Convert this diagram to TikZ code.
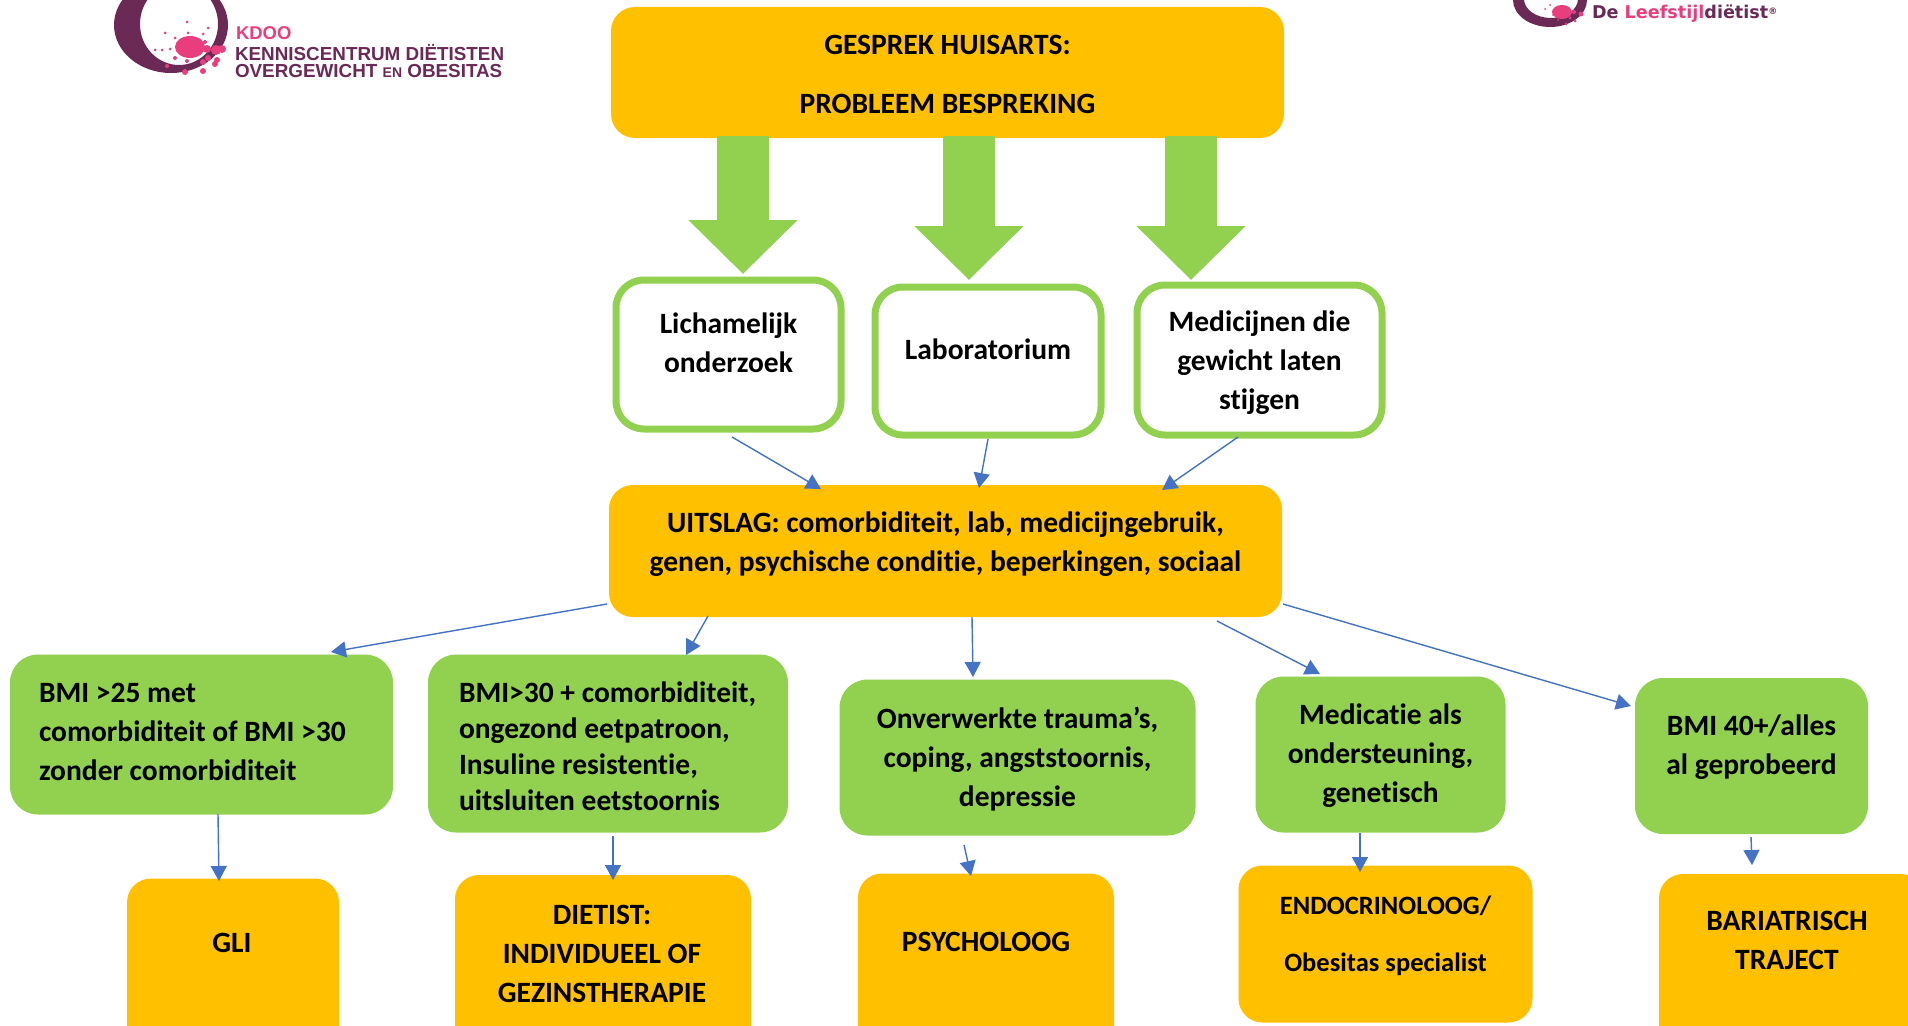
\documentclass[tikz,border=0pt]{standalone}
\usepackage{fontspec}
\setmainfont[Ligatures=NoCommon]{Carlito}
\newfontfamily\logofont{Liberation Sans}
\newfontfamily\logofontb{DejaVu Sans}
\usetikzlibrary{arrows.meta}
\definecolor{orangeb}{HTML}{FFC000}
\definecolor{greenb}{HTML}{92D050}
\definecolor{arrowb}{HTML}{4472C4}
\definecolor{plum}{HTML}{6B2A55}
\definecolor{pinkb}{HTML}{E83E7E}
\newcommand{\tx}[5][29.5]{\raisebox{\dimexpr-#3pt-8.5pt\relax}[0pt][0pt]{\makebox[0pt][l]{\kern #2pt\makebox[0pt][#4]{\fontsize{#1}{39}\selectfont\bfseries\begin{tabular}{@{}#4@{}}#5\end{tabular}}}}}
\tikzset{
  obox/.style={fill=orangeb,rounded corners=24pt,inner sep=0pt,outer sep=0pt},
  gbox/.style={fill=greenb,rounded corners=28pt,inner sep=0pt,outer sep=0pt},
  wbox/.style={draw=greenb,line width=7pt,fill=white,rounded corners=28pt,inner sep=0pt,outer sep=0pt},
  conn/.style={draw=arrowb,line width=1.4pt,-{Triangle[length=15pt,width=16pt,fill=arrowb]}},
  bigarrow/.style={draw=greenb,line width=52pt,-{Triangle[length=54pt,width=106pt,fill=greenb]}},
  logotxt/.style={inner sep=0pt,outer sep=0pt,anchor=west,font=\logofont\bfseries}
}
\begin{document}
\begin{tikzpicture}[x=1pt,y=-1pt]
\path[use as bounding box] (0,0) rectangle (1908,1025);
\clip (0,0) rectangle (1908,1025);
\fill[white] (0,0) rectangle (1908,1025);
% left logo
\fill[plum,even odd rule] (171,25) ellipse [x radius=57,y radius=48] (179,24) ellipse [x radius=39,y radius=41];
\fill[pinkb] (190,47) ellipse [x radius=15,y radius=11];
\foreach \px/\py/\ps in {155/50/1.5,162/50/1.5,170/49/1.5,165/33/1.5,175/38/1.5,187/22/1.5,188/33/1.5,208/28/1.5,203/34/1.5,205/42/2,207/49/4,216/50/5,222/49/4,208/58/3,217/60/3,203/62/3,187/61/2,175/58/2,167/66/2,185/72/3,203/71/3,215/64/3}{
  \fill[pinkb] (\px,\py) circle [radius=\ps];
}
\node[logotxt,text=pinkb,font=\logofont\bfseries\fontsize{18.5}{20}\selectfont] (kdoo) at (236,33) {KDOO};
\node[logotxt,text=plum,font=\logofont\bfseries\fontsize{18.85}{20}\selectfont] (kenn) at (235,52.5) {KENNISCENTRUM DIËTISTEN};
\node[logotxt,text=plum,font=\logofont\bfseries\fontsize{18.85}{20}\selectfont] (over) at (235,71) {OVERGEWICHT {\fontsize{14}{16}\selectfont EN} OBESITAS};
% right logo
\fill[plum,even odd rule] (1550,0) ellipse [x radius=37,y radius=27] (1551,-1) ellipse [x radius=27,y radius=19];
\fill[pinkb] (1562,12) ellipse [x radius=10,y radius=7];
\foreach \px/\py/\ps in {1545/9/1,1550/5/1,1553/15/1,1574/12/2,1581/14/2.5,1570/18/1.5,1575/21/1.5,1566/24/1.5,1558/20/1}{
  \fill[pinkb] (\px,\py) circle [radius=\ps];
}
\node[logotxt,font=\logofontb\bfseries\fontsize{17.6}{20}\selectfont] (leef) at (1592,14) {\textcolor{plum}{De }\textcolor{pinkb}{Leefstijl}\textcolor{plum}{diëtist}\textcolor{plum}{\raisebox{4pt}{\fontsize{9}{10}\selectfont ®}}};
% boxes
\node[obox,minimum width=673pt,minimum height=131pt] (top) at (947.5,72.5) {\tx{0}{1.5}{c}{GESPREK HUISARTS:\\[19.4pt]PROBLEEM BESPREKING}};
\node[wbox,minimum width=225pt,minimum height=149pt] (w1) at (728.5,354.5) {\tx{0}{-11.5}{c}{Lichamelijk\\onderzoek}};
\node[wbox,minimum width=226pt,minimum height=148pt] (w2) at (988,361) {\tx{0}{-12}{c}{Laboratorium}};
\node[wbox,minimum width=245pt,minimum height=150pt] (w3) at (1259.5,360) {\tx{0}{0}{c}{Medicijnen die\\gewicht laten\\stijgen}};
\node[obox,minimum width=673pt,minimum height=132pt] (uit) at (945.5,551) {\tx{0}{-9.5}{c}{UITSLAG: comorbiditeit, lab, medicijngebruik,\\genen, psychische conditie, beperkingen, sociaal}};
\node[gbox,minimum width=383pt,minimum height=160pt] (g1) at (201.5,734.5) {\tx{-162.5}{-3.5}{l}{BMI >25 met\\comorbiditeit of BMI >30\\zonder comorbiditeit}};
\node[gbox,minimum width=360pt,minimum height=178pt] (g2) at (608,743.5) {\tx{-149}{3}{l}{BMI>30 + comorbiditeit,\\[-3pt]ongezond eetpatroon,\\[-3pt]Insuline resistentie,\\[-3pt]uitsluiten eetstoornis}};
\node[gbox,minimum width=356pt,minimum height=156pt] (g3) at (1017.5,757.5) {\tx{0}{0}{c}{Onverwerkte trauma’s,\\coping, angststoornis,\\depressie}};
\node[gbox,minimum width=250pt,minimum height=156pt] (g4) at (1380.5,754.5) {\tx{0}{-1.5}{c}{Medicatie als\\ondersteuning,\\genetisch}};
\node[gbox,minimum width=233pt,minimum height=156pt] (g5) at (1751.5,756) {\tx{0}{-11}{c}{BMI 40+/alles\\al geprobeerd}};
\node[obox,minimum width=212pt,minimum height=183pt] (o1) at (233,970) {\tx{-1}{-28}{c}{GLI}};
\node[obox,minimum width=296pt,minimum height=185pt] (o2) at (603,967.5) {\tx{-1}{-14.5}{c}{DIETIST:\\INDIVIDUEEL OF\\GEZINSTHERAPIE}};
\node[obox,minimum width=256pt,minimum height=187pt] (o3) at (986,967) {\tx{0}{-26}{c}{PSYCHOLOOG}};
\node[obox,minimum width=294pt,minimum height=157pt] (o4) at (1385.5,944) {\tx[26.5]{0}{-11.5}{c}{ENDOCRINOLOOG/\\[18pt]Obesitas specialist}};
\node[obox,minimum width=266pt,minimum height=186pt] (o5) at (1792,967) {\tx{-5}{-27}{c}{BARIATRISCH\\TRAJECT}};
% block arrows
\draw[bigarrow] ([shift={(-204.5,63.5)}]top.center) -- ([shift={(14.5,-80.5)}]w1.center);
\draw[bigarrow] ([shift={(21.5,63.5)}]top.center) -- ([shift={(-19,-81)}]w2.center);
\draw[bigarrow] ([shift={(243.5,63.5)}]top.center) -- ([shift={(-68.5,-80)}]w3.center);
% connectors
\draw[conn] ([shift={(3.5,82.5)}]w1.center) -- ([shift={(-124.5,-62)}]uit.center);
\draw[conn] ([shift={(0,78)}]w2.center) -- ([shift={(33.5,-63)}]uit.center);
\draw[conn] ([shift={(-21.5,77)}]w3.center) -- ([shift={(216.5,-61)}]uit.center);
\draw[conn] ([shift={(-338.5,53)}]uit.center) -- ([shift={(129.5,-82.5)}]g1.center);
\draw[conn] ([shift={(-237.5,65)}]uit.center) -- ([shift={(78,-88.5)}]g2.center);
\draw[conn] ([shift={(26.5,66)}]uit.center) -- ([shift={(-44.5,-80.5)}]g3.center);
\draw[conn] ([shift={(271.5,70)}]uit.center) -- ([shift={(-60.5,-80.5)}]g4.center);
\draw[conn] ([shift={(337.5,53)}]uit.center) -- ([shift={(-120.5,-50)}]g5.center);
\draw[conn] ([shift={(16.5,79.5)}]g1.center) -- ([shift={(-14,-89)}]o1.center);
\draw[conn] ([shift={(5,92.5)}]g2.center) -- ([shift={(10,-87.5)}]o2.center);
\draw[conn] ([shift={(-53.5,87.5)}]g3.center) -- ([shift={(-15,-91)}]o3.center);
\draw[conn] ([shift={(-20.5,78.5)}]g4.center) -- ([shift={(-25.5,-72)}]o4.center);
\draw[conn] ([shift={(-0.5,81)}]g5.center) -- ([shift={(-40,-102)}]o5.center);
\end{tikzpicture}
\end{document}
